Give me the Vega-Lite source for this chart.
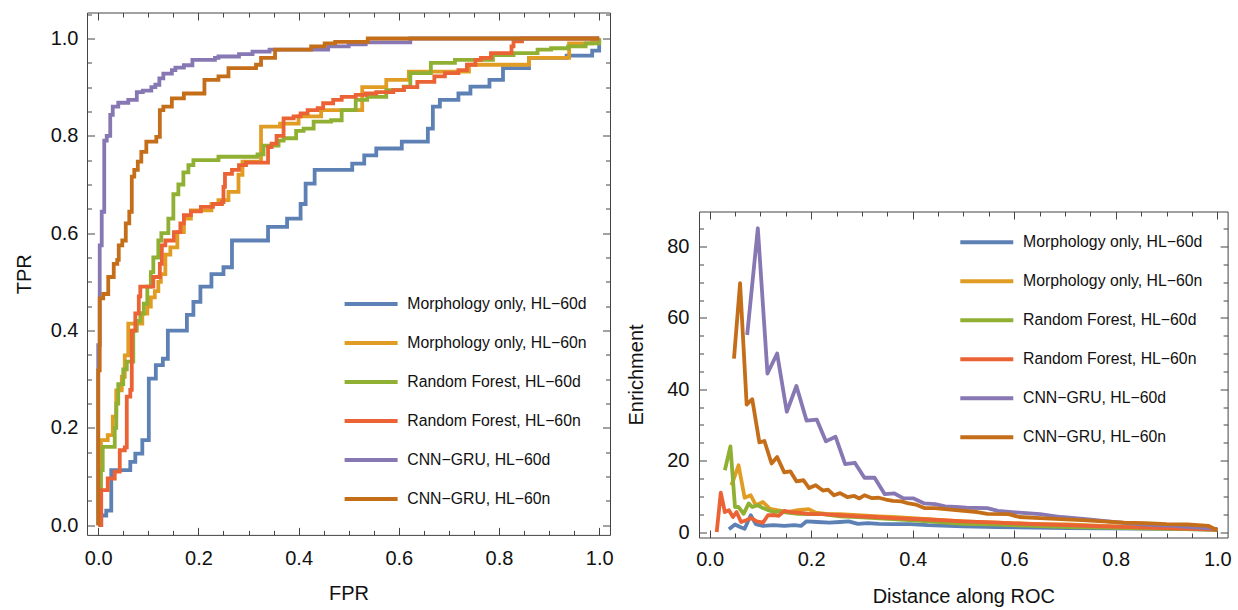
{
"$schema": "https://vega.github.io/schema/vega-lite/v6.json",
"padding": {"left": 13, "top": 3.5, "right": 0, "bottom": 0},
"config": {
  "font": "Liberation Sans",
  "view": {"stroke": "#444", "strokeWidth": 1},
  "axis": {"labelFont": "Liberation Sans", "titleFont": "Liberation Sans", "labelFontSize": 20, "titleFontSize": 20, "titleFontWeight": "normal", "labelColor": "#111", "titleColor": "#111", "grid": false, "domain": false, "tickColor": "#444", "tickWidth": 1, "labelFlush": false, "labelOverlap": false},
  "legend": {"labelFont": "Liberation Sans", "labelFontSize": 15.8, "labelColor": "#111", "symbolType": "stroke", "symbolSize": 2809, "symbolStrokeWidth": 4, "labelOffset": 7.7, "rowPadding": 2, "padding": 0, "labelLimit": 400, "symbolOpacity": 1},
  "concat": {"spacing": 12}
},
"datasets": {
"roc": [
{"model":"Morphology only, HL−60d","fpr":0,"tpr":0},{"model":"Morphology only, HL−60d","fpr":0.006,"tpr":0.02},{"model":"Morphology only, HL−60d","fpr":0.016,"tpr":0.03},{"model":"Morphology only, HL−60d","fpr":0.026,"tpr":0.113},{"model":"Morphology only, HL−60d","fpr":0.064,"tpr":0.13},{"model":"Morphology only, HL−60d","fpr":0.074,"tpr":0.147},{"model":"Morphology only, HL−60d","fpr":0.088,"tpr":0.175},{"model":"Morphology only, HL−60d","fpr":0.101,"tpr":0.301},{"model":"Morphology only, HL−60d","fpr":0.115,"tpr":0.329},{"model":"Morphology only, HL−60d","fpr":0.129,"tpr":0.342},{"model":"Morphology only, HL−60d","fpr":0.139,"tpr":0.4},{"model":"Morphology only, HL−60d","fpr":0.177,"tpr":0.432},{"model":"Morphology only, HL−60d","fpr":0.19,"tpr":0.459},{"model":"Morphology only, HL−60d","fpr":0.204,"tpr":0.49},{"model":"Morphology only, HL−60d","fpr":0.226,"tpr":0.516},{"model":"Morphology only, HL−60d","fpr":0.25,"tpr":0.53},{"model":"Morphology only, HL−60d","fpr":0.267,"tpr":0.585},{"model":"Morphology only, HL−60d","fpr":0.339,"tpr":0.613},{"model":"Morphology only, HL−60d","fpr":0.377,"tpr":0.63},{"model":"Morphology only, HL−60d","fpr":0.404,"tpr":0.66},{"model":"Morphology only, HL−60d","fpr":0.414,"tpr":0.702},{"model":"Morphology only, HL−60d","fpr":0.432,"tpr":0.73},{"model":"Morphology only, HL−60d","fpr":0.507,"tpr":0.743},{"model":"Morphology only, HL−60d","fpr":0.531,"tpr":0.76},{"model":"Morphology only, HL−60d","fpr":0.555,"tpr":0.774},{"model":"Morphology only, HL−60d","fpr":0.606,"tpr":0.788},{"model":"Morphology only, HL−60d","fpr":0.658,"tpr":0.815},{"model":"Morphology only, HL−60d","fpr":0.668,"tpr":0.86},{"model":"Morphology only, HL−60d","fpr":0.682,"tpr":0.874},{"model":"Morphology only, HL−60d","fpr":0.719,"tpr":0.887},{"model":"Morphology only, HL−60d","fpr":0.743,"tpr":0.901},{"model":"Morphology only, HL−60d","fpr":0.781,"tpr":0.915},{"model":"Morphology only, HL−60d","fpr":0.808,"tpr":0.939},{"model":"Morphology only, HL−60d","fpr":0.86,"tpr":0.96},{"model":"Morphology only, HL−60d","fpr":0.935,"tpr":0.965},{"model":"Morphology only, HL−60d","fpr":0.986,"tpr":0.975},{"model":"Morphology only, HL−60d","fpr":1,"tpr":1},
{"model":"Morphology only, HL−60n","fpr":0,"tpr":0},{"model":"Morphology only, HL−60n","fpr":0.0055,"tpr":0.175},{"model":"Morphology only, HL−60n","fpr":0.019,"tpr":0.185},{"model":"Morphology only, HL−60n","fpr":0.029,"tpr":0.223},{"model":"Morphology only, HL−60n","fpr":0.036,"tpr":0.277},{"model":"Morphology only, HL−60n","fpr":0.047,"tpr":0.305},{"model":"Morphology only, HL−60n","fpr":0.053,"tpr":0.349},{"model":"Morphology only, HL−60n","fpr":0.06,"tpr":0.414},{"model":"Morphology only, HL−60n","fpr":0.088,"tpr":0.435},{"model":"Morphology only, HL−60n","fpr":0.098,"tpr":0.449},{"model":"Morphology only, HL−60n","fpr":0.105,"tpr":0.468},{"model":"Morphology only, HL−60n","fpr":0.113,"tpr":0.481},{"model":"Morphology only, HL−60n","fpr":0.12,"tpr":0.5},{"model":"Morphology only, HL−60n","fpr":0.125,"tpr":0.516},{"model":"Morphology only, HL−60n","fpr":0.134,"tpr":0.556},{"model":"Morphology only, HL−60n","fpr":0.144,"tpr":0.571},{"model":"Morphology only, HL−60n","fpr":0.158,"tpr":0.602},{"model":"Morphology only, HL−60n","fpr":0.171,"tpr":0.63},{"model":"Morphology only, HL−60n","fpr":0.185,"tpr":0.647},{"model":"Morphology only, HL−60n","fpr":0.226,"tpr":0.66},{"model":"Morphology only, HL−60n","fpr":0.24,"tpr":0.668},{"model":"Morphology only, HL−60n","fpr":0.26,"tpr":0.685},{"model":"Morphology only, HL−60n","fpr":0.28,"tpr":0.72},{"model":"Morphology only, HL−60n","fpr":0.288,"tpr":0.747},{"model":"Morphology only, HL−60n","fpr":0.325,"tpr":0.819},{"model":"Morphology only, HL−60n","fpr":0.363,"tpr":0.825},{"model":"Morphology only, HL−60n","fpr":0.4,"tpr":0.84},{"model":"Morphology only, HL−60n","fpr":0.445,"tpr":0.853},{"model":"Morphology only, HL−60n","fpr":0.527,"tpr":0.9},{"model":"Morphology only, HL−60n","fpr":0.575,"tpr":0.915},{"model":"Morphology only, HL−60n","fpr":0.62,"tpr":0.932},{"model":"Morphology only, HL−60n","fpr":0.74,"tpr":0.946},{"model":"Morphology only, HL−60n","fpr":0.86,"tpr":0.96},{"model":"Morphology only, HL−60n","fpr":0.94,"tpr":0.966},{"model":"Morphology only, HL−60n","fpr":0.94,"tpr":0.99},{"model":"Morphology only, HL−60n","fpr":0.986,"tpr":0.993},{"model":"Morphology only, HL−60n","fpr":1,"tpr":1},
{"model":"Random Forest, HL−60d","fpr":0,"tpr":0},{"model":"Random Forest, HL−60d","fpr":0.005,"tpr":0.113},{"model":"Random Forest, HL−60d","fpr":0.009,"tpr":0.161},{"model":"Random Forest, HL−60d","fpr":0.033,"tpr":0.2},{"model":"Random Forest, HL−60d","fpr":0.036,"tpr":0.25},{"model":"Random Forest, HL−60d","fpr":0.04,"tpr":0.29},{"model":"Random Forest, HL−60d","fpr":0.05,"tpr":0.32},{"model":"Random Forest, HL−60d","fpr":0.057,"tpr":0.336},{"model":"Random Forest, HL−60d","fpr":0.07,"tpr":0.4},{"model":"Random Forest, HL−60d","fpr":0.077,"tpr":0.42},{"model":"Random Forest, HL−60d","fpr":0.084,"tpr":0.435},{"model":"Random Forest, HL−60d","fpr":0.091,"tpr":0.455},{"model":"Random Forest, HL−60d","fpr":0.098,"tpr":0.49},{"model":"Random Forest, HL−60d","fpr":0.105,"tpr":0.52},{"model":"Random Forest, HL−60d","fpr":0.11,"tpr":0.55},{"model":"Random Forest, HL−60d","fpr":0.12,"tpr":0.585},{"model":"Random Forest, HL−60d","fpr":0.126,"tpr":0.6},{"model":"Random Forest, HL−60d","fpr":0.14,"tpr":0.63},{"model":"Random Forest, HL−60d","fpr":0.15,"tpr":0.68},{"model":"Random Forest, HL−60d","fpr":0.16,"tpr":0.7},{"model":"Random Forest, HL−60d","fpr":0.17,"tpr":0.725},{"model":"Random Forest, HL−60d","fpr":0.18,"tpr":0.74},{"model":"Random Forest, HL−60d","fpr":0.19,"tpr":0.75},{"model":"Random Forest, HL−60d","fpr":0.24,"tpr":0.757},{"model":"Random Forest, HL−60d","fpr":0.318,"tpr":0.762},{"model":"Random Forest, HL−60d","fpr":0.33,"tpr":0.78},{"model":"Random Forest, HL−60d","fpr":0.36,"tpr":0.79},{"model":"Random Forest, HL−60d","fpr":0.37,"tpr":0.795},{"model":"Random Forest, HL−60d","fpr":0.395,"tpr":0.81},{"model":"Random Forest, HL−60d","fpr":0.41,"tpr":0.815},{"model":"Random Forest, HL−60d","fpr":0.43,"tpr":0.829},{"model":"Random Forest, HL−60d","fpr":0.465,"tpr":0.832},{"model":"Random Forest, HL−60d","fpr":0.486,"tpr":0.853},{"model":"Random Forest, HL−60d","fpr":0.514,"tpr":0.874},{"model":"Random Forest, HL−60d","fpr":0.537,"tpr":0.88},{"model":"Random Forest, HL−60d","fpr":0.575,"tpr":0.894},{"model":"Random Forest, HL−60d","fpr":0.61,"tpr":0.901},{"model":"Random Forest, HL−60d","fpr":0.623,"tpr":0.929},{"model":"Random Forest, HL−60d","fpr":0.664,"tpr":0.95},{"model":"Random Forest, HL−60d","fpr":0.712,"tpr":0.956},{"model":"Random Forest, HL−60d","fpr":0.788,"tpr":0.966},{"model":"Random Forest, HL−60d","fpr":0.829,"tpr":0.97},{"model":"Random Forest, HL−60d","fpr":0.877,"tpr":0.977},{"model":"Random Forest, HL−60d","fpr":0.904,"tpr":0.98},{"model":"Random Forest, HL−60d","fpr":0.938,"tpr":0.984},{"model":"Random Forest, HL−60d","fpr":0.973,"tpr":0.99},{"model":"Random Forest, HL−60d","fpr":1,"tpr":1},
{"model":"Random Forest, HL−60n","fpr":0,"tpr":0},{"model":"Random Forest, HL−60n","fpr":0.006,"tpr":0.072},{"model":"Random Forest, HL−60n","fpr":0.019,"tpr":0.096},{"model":"Random Forest, HL−60n","fpr":0.033,"tpr":0.11},{"model":"Random Forest, HL−60n","fpr":0.043,"tpr":0.154},{"model":"Random Forest, HL−60n","fpr":0.053,"tpr":0.16},{"model":"Random Forest, HL−60n","fpr":0.057,"tpr":0.264},{"model":"Random Forest, HL−60n","fpr":0.064,"tpr":0.278},{"model":"Random Forest, HL−60n","fpr":0.067,"tpr":0.4},{"model":"Random Forest, HL−60n","fpr":0.074,"tpr":0.435},{"model":"Random Forest, HL−60n","fpr":0.081,"tpr":0.47},{"model":"Random Forest, HL−60n","fpr":0.084,"tpr":0.49},{"model":"Random Forest, HL−60n","fpr":0.11,"tpr":0.51},{"model":"Random Forest, HL−60n","fpr":0.123,"tpr":0.537},{"model":"Random Forest, HL−60n","fpr":0.127,"tpr":0.575},{"model":"Random Forest, HL−60n","fpr":0.134,"tpr":0.585},{"model":"Random Forest, HL−60n","fpr":0.151,"tpr":0.602},{"model":"Random Forest, HL−60n","fpr":0.164,"tpr":0.62},{"model":"Random Forest, HL−60n","fpr":0.171,"tpr":0.637},{"model":"Random Forest, HL−60n","fpr":0.185,"tpr":0.645},{"model":"Random Forest, HL−60n","fpr":0.205,"tpr":0.654},{"model":"Random Forest, HL−60n","fpr":0.229,"tpr":0.66},{"model":"Random Forest, HL−60n","fpr":0.247,"tpr":0.664},{"model":"Random Forest, HL−60n","fpr":0.25,"tpr":0.695},{"model":"Random Forest, HL−60n","fpr":0.253,"tpr":0.722},{"model":"Random Forest, HL−60n","fpr":0.267,"tpr":0.73},{"model":"Random Forest, HL−60n","fpr":0.281,"tpr":0.74},{"model":"Random Forest, HL−60n","fpr":0.295,"tpr":0.745},{"model":"Random Forest, HL−60n","fpr":0.339,"tpr":0.777},{"model":"Random Forest, HL−60n","fpr":0.346,"tpr":0.784},{"model":"Random Forest, HL−60n","fpr":0.356,"tpr":0.8},{"model":"Random Forest, HL−60n","fpr":0.37,"tpr":0.836},{"model":"Random Forest, HL−60n","fpr":0.39,"tpr":0.84},{"model":"Random Forest, HL−60n","fpr":0.404,"tpr":0.846},{"model":"Random Forest, HL−60n","fpr":0.418,"tpr":0.853},{"model":"Random Forest, HL−60n","fpr":0.438,"tpr":0.857},{"model":"Random Forest, HL−60n","fpr":0.449,"tpr":0.867},{"model":"Random Forest, HL−60n","fpr":0.469,"tpr":0.874},{"model":"Random Forest, HL−60n","fpr":0.486,"tpr":0.88},{"model":"Random Forest, HL−60n","fpr":0.514,"tpr":0.884},{"model":"Random Forest, HL−60n","fpr":0.534,"tpr":0.887},{"model":"Random Forest, HL−60n","fpr":0.555,"tpr":0.89},{"model":"Random Forest, HL−60n","fpr":0.589,"tpr":0.894},{"model":"Random Forest, HL−60n","fpr":0.61,"tpr":0.9},{"model":"Random Forest, HL−60n","fpr":0.637,"tpr":0.911},{"model":"Random Forest, HL−60n","fpr":0.671,"tpr":0.922},{"model":"Random Forest, HL−60n","fpr":0.692,"tpr":0.929},{"model":"Random Forest, HL−60n","fpr":0.719,"tpr":0.935},{"model":"Random Forest, HL−60n","fpr":0.736,"tpr":0.946},{"model":"Random Forest, HL−60n","fpr":0.753,"tpr":0.956},{"model":"Random Forest, HL−60n","fpr":0.764,"tpr":0.96},{"model":"Random Forest, HL−60n","fpr":0.784,"tpr":0.97},{"model":"Random Forest, HL−60n","fpr":0.825,"tpr":0.984},{"model":"Random Forest, HL−60n","fpr":0.829,"tpr":0.994},{"model":"Random Forest, HL−60n","fpr":0.846,"tpr":1},{"model":"Random Forest, HL−60n","fpr":1,"tpr":1},
{"model":"CNN−GRU, HL−60d","fpr":0,"tpr":0},{"model":"CNN−GRU, HL−60d","fpr":0,"tpr":0.37},{"model":"CNN−GRU, HL−60d","fpr":0.003,"tpr":0.575},{"model":"CNN−GRU, HL−60d","fpr":0.007,"tpr":0.644},{"model":"CNN−GRU, HL−60d","fpr":0.012,"tpr":0.79},{"model":"CNN−GRU, HL−60d","fpr":0.017,"tpr":0.8},{"model":"CNN−GRU, HL−60d","fpr":0.024,"tpr":0.843},{"model":"CNN−GRU, HL−60d","fpr":0.029,"tpr":0.86},{"model":"CNN−GRU, HL−60d","fpr":0.04,"tpr":0.868},{"model":"CNN−GRU, HL−60d","fpr":0.06,"tpr":0.874},{"model":"CNN−GRU, HL−60d","fpr":0.077,"tpr":0.89},{"model":"CNN−GRU, HL−60d","fpr":0.089,"tpr":0.893},{"model":"CNN−GRU, HL−60d","fpr":0.106,"tpr":0.9},{"model":"CNN−GRU, HL−60d","fpr":0.114,"tpr":0.905},{"model":"CNN−GRU, HL−60d","fpr":0.122,"tpr":0.918},{"model":"CNN−GRU, HL−60d","fpr":0.13,"tpr":0.928},{"model":"CNN−GRU, HL−60d","fpr":0.147,"tpr":0.935},{"model":"CNN−GRU, HL−60d","fpr":0.154,"tpr":0.94},{"model":"CNN−GRU, HL−60d","fpr":0.171,"tpr":0.945},{"model":"CNN−GRU, HL−60d","fpr":0.188,"tpr":0.956},{"model":"CNN−GRU, HL−60d","fpr":0.233,"tpr":0.96},{"model":"CNN−GRU, HL−60d","fpr":0.24,"tpr":0.963},{"model":"CNN−GRU, HL−60d","fpr":0.281,"tpr":0.968},{"model":"CNN−GRU, HL−60d","fpr":0.308,"tpr":0.973},{"model":"CNN−GRU, HL−60d","fpr":0.342,"tpr":0.977},{"model":"CNN−GRU, HL−60d","fpr":0.459,"tpr":0.984},{"model":"CNN−GRU, HL−60d","fpr":0.5,"tpr":0.988},{"model":"CNN−GRU, HL−60d","fpr":0.534,"tpr":0.992},{"model":"CNN−GRU, HL−60d","fpr":0.623,"tpr":1},{"model":"CNN−GRU, HL−60d","fpr":1,"tpr":1},
{"model":"CNN−GRU, HL−60n","fpr":0,"tpr":0},{"model":"CNN−GRU, HL−60n","fpr":0,"tpr":0.318},{"model":"CNN−GRU, HL−60n","fpr":0.003,"tpr":0.466},{"model":"CNN−GRU, HL−60n","fpr":0.01,"tpr":0.475},{"model":"CNN−GRU, HL−60n","fpr":0.02,"tpr":0.51},{"model":"CNN−GRU, HL−60n","fpr":0.031,"tpr":0.537},{"model":"CNN−GRU, HL−60n","fpr":0.038,"tpr":0.545},{"model":"CNN−GRU, HL−60n","fpr":0.041,"tpr":0.575},{"model":"CNN−GRU, HL−60n","fpr":0.048,"tpr":0.585},{"model":"CNN−GRU, HL−60n","fpr":0.055,"tpr":0.62},{"model":"CNN−GRU, HL−60n","fpr":0.062,"tpr":0.644},{"model":"CNN−GRU, HL−60n","fpr":0.067,"tpr":0.716},{"model":"CNN−GRU, HL−60n","fpr":0.072,"tpr":0.73},{"model":"CNN−GRU, HL−60n","fpr":0.079,"tpr":0.747},{"model":"CNN−GRU, HL−60n","fpr":0.086,"tpr":0.767},{"model":"CNN−GRU, HL−60n","fpr":0.096,"tpr":0.788},{"model":"CNN−GRU, HL−60n","fpr":0.116,"tpr":0.798},{"model":"CNN−GRU, HL−60n","fpr":0.123,"tpr":0.853},{"model":"CNN−GRU, HL−60n","fpr":0.13,"tpr":0.86},{"model":"CNN−GRU, HL−60n","fpr":0.147,"tpr":0.877},{"model":"CNN−GRU, HL−60n","fpr":0.171,"tpr":0.887},{"model":"CNN−GRU, HL−60n","fpr":0.212,"tpr":0.915},{"model":"CNN−GRU, HL−60n","fpr":0.24,"tpr":0.922},{"model":"CNN−GRU, HL−60n","fpr":0.26,"tpr":0.939},{"model":"CNN−GRU, HL−60n","fpr":0.315,"tpr":0.946},{"model":"CNN−GRU, HL−60n","fpr":0.325,"tpr":0.96},{"model":"CNN−GRU, HL−60n","fpr":0.353,"tpr":0.977},{"model":"CNN−GRU, HL−60n","fpr":0.425,"tpr":0.984},{"model":"CNN−GRU, HL−60n","fpr":0.452,"tpr":0.99},{"model":"CNN−GRU, HL−60n","fpr":0.473,"tpr":0.993},{"model":"CNN−GRU, HL−60n","fpr":0.538,"tpr":1},{"model":"CNN−GRU, HL−60n","fpr":1,"tpr":1}
],
"enr": [
{"model":"Morphology only, HL−60d","dist":0.038,"enrich":0.75},{"model":"Morphology only, HL−60d","dist":0.05,"enrich":2.1},{"model":"Morphology only, HL−60d","dist":0.06,"enrich":1.4},{"model":"Morphology only, HL−60d","dist":0.069,"enrich":0.9},{"model":"Morphology only, HL−60d","dist":0.081,"enrich":4.7},{"model":"Morphology only, HL−60d","dist":0.091,"enrich":2.2},{"model":"Morphology only, HL−60d","dist":0.105,"enrich":1.7},{"model":"Morphology only, HL−60d","dist":0.126,"enrich":1.9},{"model":"Morphology only, HL−60d","dist":0.147,"enrich":1.7},{"model":"Morphology only, HL−60d","dist":0.167,"enrich":1.9},{"model":"Morphology only, HL−60d","dist":0.18,"enrich":1.7},{"model":"Morphology only, HL−60d","dist":0.191,"enrich":3.0},{"model":"Morphology only, HL−60d","dist":0.212,"enrich":2.8},{"model":"Morphology only, HL−60d","dist":0.236,"enrich":2.6},{"model":"Morphology only, HL−60d","dist":0.257,"enrich":2.8},{"model":"Morphology only, HL−60d","dist":0.274,"enrich":3.0},{"model":"Morphology only, HL−60d","dist":0.292,"enrich":2.3},{"model":"Morphology only, HL−60d","dist":0.312,"enrich":2.5},{"model":"Morphology only, HL−60d","dist":0.333,"enrich":2.3},{"model":"Morphology only, HL−60d","dist":0.361,"enrich":2.2},{"model":"Morphology only, HL−60d","dist":0.395,"enrich":2.2},{"model":"Morphology only, HL−60d","dist":0.43,"enrich":1.9},{"model":"Morphology only, HL−60d","dist":0.499,"enrich":1.6},{"model":"Morphology only, HL−60d","dist":0.568,"enrich":1.4},{"model":"Morphology only, HL−60d","dist":0.637,"enrich":1.2},{"model":"Morphology only, HL−60d","dist":0.706,"enrich":1.1},{"model":"Morphology only, HL−60d","dist":0.775,"enrich":1.0},{"model":"Morphology only, HL−60d","dist":0.845,"enrich":0.95},{"model":"Morphology only, HL−60d","dist":0.914,"enrich":0.85},{"model":"Morphology only, HL−60d","dist":1.0,"enrich":0.7},
{"model":"Morphology only, HL−60n","dist":0.043,"enrich":13.1},{"model":"Morphology only, HL−60n","dist":0.057,"enrich":18.7},{"model":"Morphology only, HL−60n","dist":0.069,"enrich":9.6},{"model":"Morphology only, HL−60n","dist":0.081,"enrich":10.3},{"model":"Morphology only, HL−60n","dist":0.091,"enrich":7.5},{"model":"Morphology only, HL−60n","dist":0.105,"enrich":8.4},{"model":"Morphology only, HL−60n","dist":0.119,"enrich":6.5},{"model":"Morphology only, HL−60n","dist":0.133,"enrich":6.1},{"model":"Morphology only, HL−60n","dist":0.153,"enrich":5.6},{"model":"Morphology only, HL−60n","dist":0.174,"enrich":6.1},{"model":"Morphology only, HL−60n","dist":0.195,"enrich":6.4},{"model":"Morphology only, HL−60n","dist":0.209,"enrich":5.4},{"model":"Morphology only, HL−60n","dist":0.229,"enrich":5.1},{"model":"Morphology only, HL−60n","dist":0.257,"enrich":5.0},{"model":"Morphology only, HL−60n","dist":0.292,"enrich":4.7},{"model":"Morphology only, HL−60n","dist":0.333,"enrich":4.4},{"model":"Morphology only, HL−60n","dist":0.361,"enrich":4.2},{"model":"Morphology only, HL−60n","dist":0.43,"enrich":3.6},{"model":"Morphology only, HL−60n","dist":0.499,"enrich":3.0},{"model":"Morphology only, HL−60n","dist":0.568,"enrich":2.6},{"model":"Morphology only, HL−60n","dist":0.637,"enrich":2.3},{"model":"Morphology only, HL−60n","dist":0.706,"enrich":2.1},{"model":"Morphology only, HL−60n","dist":0.775,"enrich":1.7},{"model":"Morphology only, HL−60n","dist":0.845,"enrich":1.4},{"model":"Morphology only, HL−60n","dist":0.914,"enrich":1.1},{"model":"Morphology only, HL−60n","dist":1.0,"enrich":0.7},
{"model":"Random Forest, HL−60d","dist":0.03,"enrich":17.3},{"model":"Random Forest, HL−60d","dist":0.041,"enrich":24.0},{"model":"Random Forest, HL−60d","dist":0.05,"enrich":7.0},{"model":"Random Forest, HL−60d","dist":0.057,"enrich":7.0},{"model":"Random Forest, HL−60d","dist":0.067,"enrich":5.1},{"model":"Random Forest, HL−60d","dist":0.077,"enrich":8.0},{"model":"Random Forest, HL−60d","dist":0.084,"enrich":7.0},{"model":"Random Forest, HL−60d","dist":0.095,"enrich":7.5},{"model":"Random Forest, HL−60d","dist":0.105,"enrich":6.7},{"model":"Random Forest, HL−60d","dist":0.116,"enrich":6.1},{"model":"Random Forest, HL−60d","dist":0.126,"enrich":5.6},{"model":"Random Forest, HL−60d","dist":0.14,"enrich":5.8},{"model":"Random Forest, HL−60d","dist":0.153,"enrich":5.4},{"model":"Random Forest, HL−60d","dist":0.174,"enrich":5.1},{"model":"Random Forest, HL−60d","dist":0.195,"enrich":5.0},{"model":"Random Forest, HL−60d","dist":0.223,"enrich":5.0},{"model":"Random Forest, HL−60d","dist":0.257,"enrich":4.4},{"model":"Random Forest, HL−60d","dist":0.292,"enrich":4.2},{"model":"Random Forest, HL−60d","dist":0.326,"enrich":3.9},{"model":"Random Forest, HL−60d","dist":0.361,"enrich":3.6},{"model":"Random Forest, HL−60d","dist":0.43,"enrich":3.0},{"model":"Random Forest, HL−60d","dist":0.499,"enrich":2.3},{"model":"Random Forest, HL−60d","dist":0.568,"enrich":2.1},{"model":"Random Forest, HL−60d","dist":0.637,"enrich":1.7},{"model":"Random Forest, HL−60d","dist":0.706,"enrich":1.4},{"model":"Random Forest, HL−60d","dist":0.775,"enrich":1.2},{"model":"Random Forest, HL−60d","dist":0.845,"enrich":1.0},{"model":"Random Forest, HL−60d","dist":0.914,"enrich":0.85},{"model":"Random Forest, HL−60d","dist":1.0,"enrich":0.6},
{"model":"Random Forest, HL−60n","dist":0.014,"enrich":0},{"model":"Random Forest, HL−60n","dist":0.022,"enrich":11.0},{"model":"Random Forest, HL−60n","dist":0.03,"enrich":5.6},{"model":"Random Forest, HL−60n","dist":0.038,"enrich":6.1},{"model":"Random Forest, HL−60n","dist":0.046,"enrich":4.2},{"model":"Random Forest, HL−60n","dist":0.053,"enrich":5.6},{"model":"Random Forest, HL−60n","dist":0.062,"enrich":2.8},{"model":"Random Forest, HL−60n","dist":0.072,"enrich":3.3},{"model":"Random Forest, HL−60n","dist":0.082,"enrich":3.9},{"model":"Random Forest, HL−60n","dist":0.093,"enrich":3.0},{"model":"Random Forest, HL−60n","dist":0.105,"enrich":2.6},{"model":"Random Forest, HL−60n","dist":0.115,"enrich":4.7},{"model":"Random Forest, HL−60n","dist":0.126,"enrich":4.7},{"model":"Random Forest, HL−60n","dist":0.136,"enrich":4.5},{"model":"Random Forest, HL−60n","dist":0.147,"enrich":5.9},{"model":"Random Forest, HL−60n","dist":0.16,"enrich":5.6},{"model":"Random Forest, HL−60n","dist":0.174,"enrich":5.4},{"model":"Random Forest, HL−60n","dist":0.195,"enrich":5.1},{"model":"Random Forest, HL−60n","dist":0.223,"enrich":5.0},{"model":"Random Forest, HL−60n","dist":0.257,"enrich":4.7},{"model":"Random Forest, HL−60n","dist":0.292,"enrich":4.4},{"model":"Random Forest, HL−60n","dist":0.326,"enrich":4.2},{"model":"Random Forest, HL−60n","dist":0.361,"enrich":3.9},{"model":"Random Forest, HL−60n","dist":0.43,"enrich":3.5},{"model":"Random Forest, HL−60n","dist":0.499,"enrich":3.0},{"model":"Random Forest, HL−60n","dist":0.568,"enrich":2.6},{"model":"Random Forest, HL−60n","dist":0.637,"enrich":2.2},{"model":"Random Forest, HL−60n","dist":0.706,"enrich":1.9},{"model":"Random Forest, HL−60n","dist":0.775,"enrich":1.6},{"model":"Random Forest, HL−60n","dist":0.845,"enrich":1.3},{"model":"Random Forest, HL−60n","dist":0.914,"enrich":1.0},{"model":"Random Forest, HL−60n","dist":1.0,"enrich":0.7},
{"model":"CNN−GRU, HL−60d","dist":0.074,"enrich":55.2},{"model":"CNN−GRU, HL−60d","dist":0.095,"enrich":85.1},{"model":"CNN−GRU, HL−60d","dist":0.114,"enrich":44.4},{"model":"CNN−GRU, HL−60d","dist":0.133,"enrich":50.0},{"model":"CNN−GRU, HL−60d","dist":0.152,"enrich":33.7},{"model":"CNN−GRU, HL−60d","dist":0.171,"enrich":40.9},{"model":"CNN−GRU, HL−60d","dist":0.191,"enrich":31.2},{"model":"CNN−GRU, HL−60d","dist":0.211,"enrich":31.5},{"model":"CNN−GRU, HL−60d","dist":0.229,"enrich":25.4},{"model":"CNN−GRU, HL−60d","dist":0.248,"enrich":26.7},{"model":"CNN−GRU, HL−60d","dist":0.267,"enrich":19.0},{"model":"CNN−GRU, HL−60d","dist":0.286,"enrich":19.4},{"model":"CNN−GRU, HL−60d","dist":0.305,"enrich":15.2},{"model":"CNN−GRU, HL−60d","dist":0.325,"enrich":15.2},{"model":"CNN−GRU, HL−60d","dist":0.345,"enrich":10.6},{"model":"CNN−GRU, HL−60d","dist":0.364,"enrich":10.8},{"model":"CNN−GRU, HL−60d","dist":0.381,"enrich":9.5},{"model":"CNN−GRU, HL−60d","dist":0.402,"enrich":9.4},{"model":"CNN−GRU, HL−60d","dist":0.423,"enrich":8.0},{"model":"CNN−GRU, HL−60d","dist":0.444,"enrich":7.8},{"model":"CNN−GRU, HL−60d","dist":0.464,"enrich":7.2},{"model":"CNN−GRU, HL−60d","dist":0.485,"enrich":7.0},{"model":"CNN−GRU, HL−60d","dist":0.506,"enrich":6.8},{"model":"CNN−GRU, HL−60d","dist":0.547,"enrich":6.7},{"model":"CNN−GRU, HL−60d","dist":0.568,"enrich":5.9},{"model":"CNN−GRU, HL−60d","dist":0.61,"enrich":5.4},{"model":"CNN−GRU, HL−60d","dist":0.651,"enrich":5.0},{"model":"CNN−GRU, HL−60d","dist":0.692,"enrich":4.2},{"model":"CNN−GRU, HL−60d","dist":0.741,"enrich":3.6},{"model":"CNN−GRU, HL−60d","dist":0.775,"enrich":3.1},{"model":"CNN−GRU, HL−60d","dist":0.81,"enrich":2.6},{"model":"CNN−GRU, HL−60d","dist":0.845,"enrich":2.2},{"model":"CNN−GRU, HL−60d","dist":0.879,"enrich":1.9},{"model":"CNN−GRU, HL−60d","dist":0.914,"enrich":1.7},{"model":"CNN−GRU, HL−60d","dist":0.948,"enrich":1.4},{"model":"CNN−GRU, HL−60d","dist":0.983,"enrich":1.1},{"model":"CNN−GRU, HL−60d","dist":1.0,"enrich":0.75},
{"model":"CNN−GRU, HL−60n","dist":0.048,"enrich":48.6},{"model":"CNN−GRU, HL−60n","dist":0.06,"enrich":69.7},{"model":"CNN−GRU, HL−60n","dist":0.073,"enrich":35.7},{"model":"CNN−GRU, HL−60n","dist":0.084,"enrich":37.2},{"model":"CNN−GRU, HL−60n","dist":0.098,"enrich":25.1},{"model":"CNN−GRU, HL−60n","dist":0.108,"enrich":25.5},{"model":"CNN−GRU, HL−60n","dist":0.122,"enrich":19.2},{"model":"CNN−GRU, HL−60n","dist":0.133,"enrich":21.0},{"model":"CNN−GRU, HL−60n","dist":0.147,"enrich":16.7},{"model":"CNN−GRU, HL−60n","dist":0.159,"enrich":17.0},{"model":"CNN−GRU, HL−60n","dist":0.171,"enrich":14.2},{"model":"CNN−GRU, HL−60n","dist":0.185,"enrich":14.5},{"model":"CNN−GRU, HL−60n","dist":0.196,"enrich":12.3},{"model":"CNN−GRU, HL−60n","dist":0.209,"enrich":13.1},{"model":"CNN−GRU, HL−60n","dist":0.223,"enrich":11.6},{"model":"CNN−GRU, HL−60n","dist":0.233,"enrich":11.9},{"model":"CNN−GRU, HL−60n","dist":0.245,"enrich":10.3},{"model":"CNN−GRU, HL−60n","dist":0.257,"enrich":10.9},{"model":"CNN−GRU, HL−60n","dist":0.271,"enrich":9.8},{"model":"CNN−GRU, HL−60n","dist":0.285,"enrich":10.1},{"model":"CNN−GRU, HL−60n","dist":0.295,"enrich":9.4},{"model":"CNN−GRU, HL−60n","dist":0.305,"enrich":10.3},{"model":"CNN−GRU, HL−60n","dist":0.319,"enrich":9.5},{"model":"CNN−GRU, HL−60n","dist":0.333,"enrich":9.6},{"model":"CNN−GRU, HL−60n","dist":0.347,"enrich":9.1},{"model":"CNN−GRU, HL−60n","dist":0.361,"enrich":8.7},{"model":"CNN−GRU, HL−60n","dist":0.378,"enrich":8.6},{"model":"CNN−GRU, HL−60n","dist":0.392,"enrich":8.0},{"model":"CNN−GRU, HL−60n","dist":0.406,"enrich":7.7},{"model":"CNN−GRU, HL−60n","dist":0.423,"enrich":6.7},{"model":"CNN−GRU, HL−60n","dist":0.444,"enrich":6.7},{"model":"CNN−GRU, HL−60n","dist":0.464,"enrich":6.4},{"model":"CNN−GRU, HL−60n","dist":0.485,"enrich":6.1},{"model":"CNN−GRU, HL−60n","dist":0.527,"enrich":5.6},{"model":"CNN−GRU, HL−60n","dist":0.547,"enrich":5.1},{"model":"CNN−GRU, HL−60n","dist":0.589,"enrich":5.0},{"model":"CNN−GRU, HL−60n","dist":0.61,"enrich":4.2},{"model":"CNN−GRU, HL−60n","dist":0.651,"enrich":3.9},{"model":"CNN−GRU, HL−60n","dist":0.692,"enrich":3.6},{"model":"CNN−GRU, HL−60n","dist":0.734,"enrich":3.3},{"model":"CNN−GRU, HL−60n","dist":0.775,"enrich":3.0},{"model":"CNN−GRU, HL−60n","dist":0.817,"enrich":2.6},{"model":"CNN−GRU, HL−60n","dist":0.858,"enrich":2.5},{"model":"CNN−GRU, HL−60n","dist":0.9,"enrich":2.2},{"model":"CNN−GRU, HL−60n","dist":0.941,"enrich":2.1},{"model":"CNN−GRU, HL−60n","dist":0.983,"enrich":1.7},{"model":"CNN−GRU, HL−60n","dist":1.0,"enrich":0.5}
]
},
"resolve": {"legend": {"color": "independent"}, "scale": {"color": "independent"}},
"hconcat": [
{
  "width": 523, "height": 522.4,
  "data": {"name": "roc"},
  "layer": [
    {
      "mark": {"type": "line", "interpolate": "step-after", "strokeWidth": 3.8, "strokeJoin": "miter"},
      "encoding": {
        "x": {"field": "fpr", "type": "quantitative", "scale": {"domain": [-0.0224, 1.0216], "nice": false, "zero": false},
          "axis": {"orient": "bottom", "title": "FPR", "titlePadding": 12, "values": [0,0.05,0.1,0.15,0.2,0.25,0.3,0.35,0.4,0.45,0.5,0.55,0.6,0.65,0.7,0.75,0.8,0.85,0.9,0.95,1],
            "labelExpr": "abs(datum.value*5-round(datum.value*5))<0.001 ? format(datum.value,'.1f') : ''",
            "tickSize": {"condition": {"test": "abs(datum.value*5-round(datum.value*5))<0.001", "value": -7.5}, "value": -4.5},
            "labelPadding": 21}},
        "y": {"field": "tpr", "type": "quantitative", "scale": {"domain": [-0.0199, 1.0534], "nice": false, "zero": false},
          "axis": {"orient": "left", "title": "TPR", "titlePadding": 16, "values": [0,0.05,0.1,0.15,0.2,0.25,0.3,0.35,0.4,0.45,0.5,0.55,0.6,0.65,0.7,0.75,0.8,0.85,0.9,0.95,1,1.05],
            "labelExpr": "abs(datum.value*5-round(datum.value*5))<0.001 ? format(datum.value,'.1f') : ''",
            "tickSize": {"condition": {"test": "abs(datum.value*5-round(datum.value*5))<0.001", "value": -7.5}, "value": -4.5},
            "labelPadding": 16.5}},
        "color": {"field": "model", "type": "nominal",
          "scale": {"domain": ["Morphology only, HL−60d","Morphology only, HL−60n","Random Forest, HL−60d","Random Forest, HL−60n","CNN−GRU, HL−60d","CNN−GRU, HL−60n"], "range": ["#5E81B5","#E19C24","#8FB032","#EB6235","#8778B3","#C56E1A"]},
          "legend": {"orient": "none", "legendX": 255.6, "legendY": 263, "title": null}},
        "order": {"value": null}
      }
    },
    {
      "mark": {"type": "line", "opacity": 0},
      "encoding": {
        "x": {"field": "fpr", "type": "quantitative", "scale": {"domain": [-0.0224, 1.0216], "nice": false, "zero": false},
          "axis": {"orient": "top", "title": null, "labels": false, "values": [0,0.05,0.1,0.15,0.2,0.25,0.3,0.35,0.4,0.45,0.5,0.55,0.6,0.65,0.7,0.75,0.8,0.85,0.9,0.95,1],
            "tickSize": {"condition": {"test": "abs(datum.value*5-round(datum.value*5))<0.001", "value": -7.5}, "value": -4.5}}},
        "y": {"field": "tpr", "type": "quantitative", "scale": {"domain": [-0.0199, 1.0534], "nice": false, "zero": false},
          "axis": {"orient": "right", "title": null, "labels": false, "values": [0,0.05,0.1,0.15,0.2,0.25,0.3,0.35,0.4,0.45,0.5,0.55,0.6,0.65,0.7,0.75,0.8,0.85,0.9,0.95,1,1.05],
            "tickSize": {"condition": {"test": "abs(datum.value*5-round(datum.value*5))<0.001", "value": -7.5}, "value": -4.5}}}
      }
    }
  ],
  "resolve": {"axis": {"x": "independent", "y": "independent"}}
},
{
  "spacing": 0,
  "resolve": {"legend": {"color": "independent"}},
  "vconcat": [
    {
      "width": 528.6, "height": 197.7,
      "data": {"values": [{"a": 0}]},
      "mark": {"type": "point", "opacity": 0},
      "encoding": {},
      "view": {"stroke": null}
    },
    {
      "width": 528.6, "height": 326,
      "data": {"name": "enr"},
      "layer": [
        {
          "mark": {"type": "line", "strokeWidth": 3.8, "strokeJoin": "round"},
          "encoding": {
            "x": {"field": "dist", "type": "quantitative", "scale": {"domain": [-0.0209, 1.0203], "nice": false, "zero": false},
              "axis": {"orient": "bottom", "title": "Distance along ROC", "titlePadding": 14, "values": [0,0.05,0.1,0.15,0.2,0.25,0.3,0.35,0.4,0.45,0.5,0.55,0.6,0.65,0.7,0.75,0.8,0.85,0.9,0.95,1],
                "labelExpr": "abs(datum.value*5-round(datum.value*5))<0.001 ? format(datum.value,'.1f') : ''",
                "tickSize": {"condition": {"test": "abs(datum.value*5-round(datum.value*5))<0.001", "value": -7.5}, "value": -4.5},
                "labelPadding": 19.8}},
            "y": {"field": "enrich", "type": "quantitative", "scale": {"domain": [-1.54, 89.8], "nice": false, "zero": false},
              "axis": {"orient": "left", "title": "Enrichment", "titlePadding": 20, "values": [0,5,10,15,20,25,30,35,40,45,50,55,60,65,70,75,80,85],
                "labelExpr": "datum.value % 20 == 0 ? format(datum.value,'d') : ''",
                "tickSize": {"condition": {"test": "datum.value % 20 == 0", "value": -7.5}, "value": -4.5},
                "labelPadding": 17.5}},
            "color": {"field": "model", "type": "nominal",
              "scale": {"domain": ["Morphology only, HL−60d","Morphology only, HL−60n","Random Forest, HL−60d","Random Forest, HL−60n","CNN−GRU, HL−60d","CNN−GRU, HL−60n"], "range": ["#5E81B5","#E19C24","#8FB032","#EB6235","#8778B3","#C56E1A"]},
              "legend": {"orient": "none", "legendX": 259.3, "legendY": 2.3, "title": null}},
            "order": {"value": null}
          }
        },
        {
          "mark": {"type": "line", "opacity": 0},
          "encoding": {
            "x": {"field": "dist", "type": "quantitative", "scale": {"domain": [-0.0209, 1.0203], "nice": false, "zero": false},
              "axis": {"orient": "top", "title": null, "labels": false, "values": [0,0.05,0.1,0.15,0.2,0.25,0.3,0.35,0.4,0.45,0.5,0.55,0.6,0.65,0.7,0.75,0.8,0.85,0.9,0.95,1],
                "tickSize": {"condition": {"test": "abs(datum.value*5-round(datum.value*5))<0.001", "value": -7.5}, "value": -4.5}}},
            "y": {"field": "enrich", "type": "quantitative", "scale": {"domain": [-1.54, 89.8], "nice": false, "zero": false},
              "axis": {"orient": "right", "title": null, "labels": false, "values": [0,5,10,15,20,25,30,35,40,45,50,55,60,65,70,75,80,85],
                "tickSize": {"condition": {"test": "datum.value % 20 == 0", "value": -7.5}, "value": -4.5}}}
          }
        }
      ],
      "resolve": {"axis": {"x": "independent", "y": "independent"}}
    }
  ]
}
]
}
